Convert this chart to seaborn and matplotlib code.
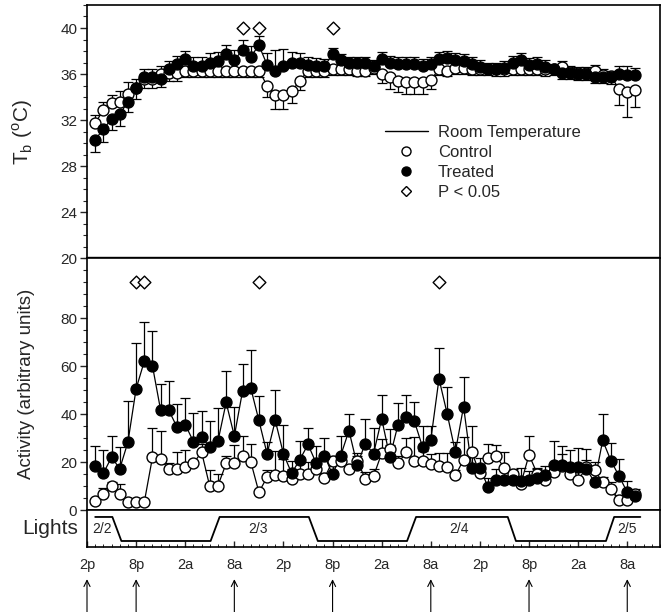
import matplotlib
matplotlib.use("Agg")
import numpy as np
import matplotlib.pyplot as plt
from matplotlib.lines import Line2D
from matplotlib.ticker import MultipleLocator
import seaborn as sns

# hourly samples, hours after 2p on 2/2
hours = list(range(1, 68))

tb_treated = [30.3, 31.2, 32.1, 32.5, 33.6, 34.8, 35.7, 35.7, 35.6, 36.4,
              36.9, 37.3, 36.7, 36.7, 37.0, 37.1, 37.7, 37.2, 38.1, 37.5,
              38.5, 36.8, 36.3, 36.7, 37.0, 37.0, 36.8, 36.7, 36.7, 37.7,
              37.2, 37.0, 37.0, 37.0, 36.7, 37.3, 37.0, 36.9, 36.9, 36.9,
              36.7, 36.9, 37.3, 37.4, 37.2, 37.1, 36.9, 36.6, 36.4, 36.4,
              36.5, 37.0, 37.2, 36.8, 36.9, 36.6, 36.4, 36.1, 36.1, 36.0,
              36.0, 35.7, 35.7, 35.7, 36.0, 35.9, 35.9]
tb_treated_err = [1.1, 1.1, 1.0, 1.0, 0.9, 0.8, 0.7, 0.7, 0.7, 0.7,
                  0.7, 0.7, 0.8, 0.8, 0.8, 0.8, 0.8, 0.9, 0.9, 0.9,
                  0.8, 1.0, 1.8, 1.5, 0.9, 0.8, 0.7, 0.7, 0.6, 0.6,
                  0.5, 0.5, 0.5, 0.5, 0.5, 0.6, 0.6, 0.6, 0.6, 0.6,
                  0.6, 0.6, 0.6, 0.6, 0.6, 0.6, 0.6, 0.6, 0.6, 0.6,
                  0.6, 0.6, 0.6, 0.6, 0.6, 0.6, 0.5, 0.5, 0.5, 0.5,
                  0.5, 0.5, 0.5, 0.6, 0.7, 0.8, 0.6]
tb_control = [31.7, 32.9, 33.5, 33.6, 34.3, 34.8, 35.6, 35.6, 36.0, 36.1,
              36.1, 36.3, 36.3, 36.3, 36.3, 36.3, 36.3, 36.3, 36.3, 36.3,
              36.3, 35.0, 34.2, 34.2, 34.5, 35.4, 36.3, 36.3, 36.3, 36.4,
              36.4, 36.4, 36.3, 36.3, 36.5, 36.0, 35.7, 35.4, 35.3, 35.3,
              35.3, 35.5, 36.4, 36.3, 36.5, 36.5, 36.4, 36.4, 36.4, 36.4,
              36.4, 36.4, 36.4, 36.4, 36.4, 36.4, 36.4, 36.6, 36.2, 36.1,
              36.1, 36.3, 35.9, 35.8, 34.7, 34.4, 34.6]
tb_control_err = [0.7, 0.7, 0.7, 0.9, 1.0, 1.0, 0.8, 0.8, 0.7, 0.7,
                  0.7, 0.6, 0.6, 0.6, 0.6, 0.6, 0.6, 0.6, 0.6, 0.6,
                  0.6, 1.0, 1.2, 1.2, 1.0, 0.8, 0.6, 0.6, 0.6, 0.5,
                  0.5, 0.5, 0.5, 0.5, 0.5, 0.8, 1.0, 1.0, 1.0, 1.0,
                  1.0, 0.8, 0.5, 0.5, 0.5, 0.5, 0.5, 0.5, 0.5, 0.6,
                  0.6, 0.5, 0.5, 0.5, 0.5, 0.6, 0.5, 0.5, 0.5, 0.5,
                  0.5, 0.5, 0.5, 0.5, 1.4, 2.1, 1.5]

act_treated = [18.5, 15.3, 22.0, 17.2, 28.3, 50.5, 62.0, 60.0, 41.5, 41.5,
               34.5, 35.6, 28.5, 30.4, 26.2, 28.7, 44.8, 30.8, 49.5, 50.9,
               37.3, 23.4, 37.3, 23.4, 15.3, 21.0, 27.3, 19.5, 22.7, 14.8,
               22.7, 33.1, 18.8, 27.7, 23.4, 38.0, 22.0, 35.6, 38.7, 36.9,
               26.2, 29.2, 54.7, 40.1, 24.1, 43.1, 17.6, 17.6, 9.5, 12.6,
               12.4, 12.3, 11.9, 12.3, 13.4, 14.4, 18.8, 18.8, 17.8, 18.1,
               17.2, 11.6, 29.0, 20.6, 14.1, 7.4, 6.0]
act_treated_err = [8.3, 9.7, 9.0, 9.0, 17.0, 19.0, 16.4, 14.6, 10.8, 12.2,
                   9.5, 11.0, 11.8, 11.0, 10.8, 13.9, 13.0, 12.0, 11.4, 15.6,
                   10.4, 5.0, 12.9, 12.2, 5.0, 7.7, 7.0, 7.0, 7.2, 6.0,
                   8.0, 6.7, 5.0, 10.3, 10.6, 10.0, 11.8, 9.0, 9.4, 8.3,
                   9.0, 5.6, 12.7, 11.0, 4.2, 12.2, 6.0, 4.0, 4.0, 4.6,
                   6.0, 4.0, 5.7, 4.0, 4.0, 4.0, 10.0, 8.0, 7.3, 7.7,
                   8.3, 4.0, 11.0, 7.4, 7.0, 4.6, 2.8]
act_control = [3.7, 6.7, 9.8, 6.7, 3.3, 3.3, 3.3, 22.0, 21.3, 16.9,
               17.2, 17.8, 19.5, 24.1, 9.8, 10.2, 19.4, 19.5, 22.4, 20.2,
               7.4, 13.7, 14.4, 14.1, 13.0, 14.8, 15.1, 17.2, 13.3, 20.3,
               20.3, 16.9, 20.6, 13.0, 14.0, 23.7, 25.5, 19.5, 24.1, 20.6,
               20.6, 19.2, 18.3, 17.8, 14.4, 20.9, 24.1, 15.3, 21.7, 22.3,
               17.5, 15.1, 10.9, 23.0, 15.1, 12.3, 15.8, 18.5, 15.1, 12.3,
               17.8, 16.5, 11.6, 8.8, 4.2, 4.2, 6.5]
act_control_err = [1.0, 2.5, 2.0, 4.0, 0.5, 0.5, 0.5, 12.0, 11.5, 2.6,
                   7.0, 7.0, 1.0, 3.5, 6.7, 5.0, 3.0, 7.4, 8.3, 7.4,
                   1.0, 3.0, 10.0, 7.0, 4.0, 7.0, 5.0, 2.0, 2.0, 2.0,
                   2.7, 1.0, 2.0, 3.0, 3.0, 6.0, 1.4, 3.0, 6.0, 9.7,
                   4.0, 4.0, 5.5, 5.9, 2.4, 9.7, 10.8, 3.0, 5.9, 4.6,
                   6.6, 2.0, 2.0, 7.8, 2.0, 2.0, 3.0, 5.0, 3.0, 5.0,
                   3.0, 3.5, 2.0, 3.0, 2.0, 2.0, 1.0]

# P < 0.05 markers
tb_sig_hours = [19, 21, 30]
tb_sig_level = 40
act_sig_hours = [6, 7, 21, 43]
act_sig_level = 95

room_temp_hours = [0, 70]
room_temp = [20.1, 20.1]

# light cycle
light_hours = [1, 3.1, 4.2, 15.1, 16.2, 27.1, 28.2, 39.1, 40.2, 51.4, 52.4, 63.4, 64.4, 67.6]
light_level = [1, 1, 0, 0, 1, 1, 0, 0, 1, 1, 0, 0, 1, 1]
date_hours = [1.9, 20.9, 45.4, 66]
date_labels = ["2/2", "2/3", "2/4", "2/5"]

tick_hours = list(range(0, 67, 6))
tick_labels = ["2p", "8p", "2a", "8a"] * 3
arrow_hours = [0, 6, 18, 30, 42, 54, 66]

sns.set_style("ticks")
plt.rcParams["font.family"] = ["Liberation Sans", "DejaVu Sans"]

W, H = 666, 612
fig = plt.figure(figsize=(W / 100, H / 100), dpi=100)


def px_axes(left, top, right, bottom):
    return fig.add_axes([left / W, 1 - bottom / H, (right - left) / W, (bottom - top) / H])


ax_t = px_axes(87, 5, 660, 258)
ax_a = px_axes(87, 258, 660, 510)
ax_l = px_axes(87, 510, 660, 547)


def draw_pair(ax, ctrl, ctrl_err, trt, trt_err, away):
    ctrl = np.array(ctrl)
    trt = np.array(trt)
    ctrl_err = np.array(ctrl_err)
    trt_err = np.array(trt_err)
    zero = np.zeros_like(ctrl)
    if away:
        # error bars point away from the other group
        up = trt >= ctrl
        t_yerr = [np.where(up, zero, trt_err), np.where(up, trt_err, zero)]
        c_yerr = [np.where(up, ctrl_err, zero), np.where(up, zero, ctrl_err)]
    else:
        t_yerr = [zero, trt_err]
        c_yerr = [zero, ctrl_err]
    eb = dict(fmt="none", ecolor="black", elinewidth=0.9, capsize=3.5, capthick=0.9, zorder=2)
    ax.errorbar(hours, ctrl, yerr=c_yerr, **eb)
    ax.errorbar(hours, trt, yerr=t_yerr, **eb)
    sns.lineplot(x=hours, y=ctrl, color="black", lw=0.9, ax=ax, zorder=2)
    sns.lineplot(x=hours, y=trt, color="black", lw=0.9, ax=ax, zorder=2)
    sns.scatterplot(x=hours, y=ctrl, marker="o", s=62, color="white",
                    edgecolor="black", linewidth=1.0, ax=ax, zorder=3)
    sns.scatterplot(x=hours, y=trt, marker="o", s=62, color="black",
                    edgecolor="black", linewidth=1.0, ax=ax, zorder=4)


# ---- body temperature
draw_pair(ax_t, tb_control, tb_control_err, tb_treated, tb_treated_err, away=True)
sns.lineplot(x=room_temp_hours, y=room_temp, color="black", lw=1.0, ax=ax_t)
sns.scatterplot(x=tb_sig_hours, y=[tb_sig_level] * len(tb_sig_hours), marker="D", s=42,
                color="white", edgecolor="black", linewidth=1.0, ax=ax_t, zorder=5)
ax_t.set_ylim(20, 42)
ax_t.set_yticks([20, 24, 28, 32, 36, 40])
ax_t.yaxis.set_minor_locator(MultipleLocator(1))
ax_t.set_ylabel("T$_\\mathregular{b}$ ($^\\mathregular{o}$C)", fontsize=15)

handles = [
    Line2D([], [], color="black", lw=1.0),
    Line2D([], [], ls="none", marker="o", ms=6.5, mfc="white", mec="black"),
    Line2D([], [], ls="none", marker="o", ms=6.5, mfc="black", mec="black"),
    Line2D([], [], ls="none", marker="D", ms=5.5, mfc="white", mec="black"),
]
ax_t.legend(handles, ["Room Temperature", "Control", "Treated", "P < 0.05"],
            loc="upper left", bbox_to_anchor=(0.505, 0.56), frameon=False,
            fontsize=12, handlelength=2.6, handletextpad=0.6, labelspacing=0.3,
            borderpad=0)

# ---- activity
draw_pair(ax_a, act_control, act_control_err, act_treated, act_treated_err, away=False)
sns.scatterplot(x=act_sig_hours, y=[act_sig_level] * len(act_sig_hours), marker="D", s=42,
                color="white", edgecolor="black", linewidth=1.0, ax=ax_a, zorder=5)
ax_a.set_ylim(0, 105)
ax_a.set_yticks([0, 20, 40, 60, 80])
ax_a.yaxis.set_minor_locator(MultipleLocator(5))
ax_a.set_ylabel("Activity (arbitrary units)", fontsize=13.5)

for ax in (ax_t, ax_a):
    ax.set_xlim(0, 70)
    ax.set_xticks([])
    ax.tick_params(axis="y", which="major", length=5, width=1, labelsize=11, pad=2)
    ax.tick_params(axis="y", which="minor", length=3, width=0.8)
    ax.yaxis.set_label_coords(-0.09, 0.5)
    for s in ax.spines.values():
        s.set_linewidth(1.2)
        s.set_color("black")

# ---- lights
sns.lineplot(x=light_hours, y=light_level, color="black", lw=1.3, ax=ax_l)
for h, lab in zip(date_hours, date_labels):
    ax_l.text(h, 0.5, lab, fontsize=10, ha="center", va="center")
ax_l.set_xlim(0, 70)
ax_l.set_ylim(-0.25, 1.29)
ax_l.set_yticks([])
ax_l.set_xticks(tick_hours)
ax_l.set_xticklabels(tick_labels)
ax_l.xaxis.set_minor_locator(MultipleLocator(1))
ax_l.tick_params(axis="x", which="major", direction="in", length=4, width=1, labelsize=10.5, pad=8)
ax_l.tick_params(axis="x", which="minor", direction="in", length=2.5, width=0.7)
for s in ax_l.spines.values():
    s.set_linewidth(1.2)
    s.set_color("black")
ax_l.text(-0.015, 0.5, "Lights", transform=ax_l.transAxes, fontsize=15,
          ha="right", va="center")

for h in arrow_hours:
    ax_l.annotate("", xy=(h, -0.87), xytext=(h, -1.8),
                  xycoords=ax_l.get_xaxis_transform(),
                  textcoords=ax_l.get_xaxis_transform(),
                  arrowprops=dict(arrowstyle="->", lw=0.8, color="black",
                                  mutation_scale=11, shrinkA=0, shrinkB=0),
                  annotation_clip=False)

fig.savefig("out.png", dpi=100)
